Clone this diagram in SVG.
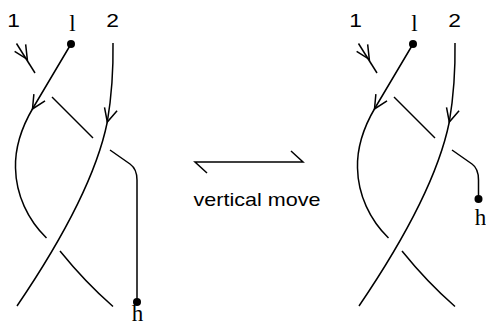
<svg xmlns="http://www.w3.org/2000/svg" xmlns:xlink="http://www.w3.org/1999/xlink" width="486" height="324" viewBox="0 0 486 324">
<style>
.s{fill:none;stroke:#000;stroke-width:1.5}
.lab{font-family:"Liberation Sans",Arial,sans-serif;font-size:19px;fill:#000;text-anchor:middle}
.ser{font-family:"Liberation Serif","Times New Roman",serif;font-size:23px;fill:#000;text-anchor:middle}
.cap{font-family:"Liberation Sans",Arial,sans-serif;font-size:18.5px;fill:#000}
</style>
<defs>
<path id="ah" d="M-13.5,-6.5 L0,0 L-13.5,6.5" fill="none" stroke="#000" stroke-width="1.5"/>
<g id="braid">
<path class="s" d="M16.5,43.5 L35,73"/>
<path class="s" d="M52,97 L93,138"/>
<path class="s" d="M71,44 L33,108 C20,130 15,150 15.5,168 C16,195 28,220 46.5,238"/>
<path class="s" d="M60,251 Q85,282 113,306.5"/>
<path class="s" d="M113,43 C113.5,75 111,100 107.3,122 C98,168 70,228 17,306"/>
<circle cx="71" cy="44" r="4"/>
<use xlink:href="#ah" transform="translate(27.3,59.3) rotate(58)"/>
<use xlink:href="#ah" transform="translate(32.5,109) rotate(121)"/>
<use xlink:href="#ah" transform="translate(107.3,122) rotate(105)"/>
<text class="lab" transform="translate(13.5,26.8) scale(1.2,1)">1</text>
<text class="ser" x="72.5" y="30.5">l</text>
<text class="lab" transform="translate(112.5,26.8) scale(1.2,1)">2</text>
</g>
</defs>
<g id="left">
<use xlink:href="#braid"/>
<path class="s" d="M110,150 L130,164 Q137,169 137,180 L137,302"/>
<circle cx="137" cy="302" r="4"/>
<text class="ser" x="137.5" y="321">h</text>
</g>
<g id="move">
<path class="s" d="M291,151 L303,162 L195,162 L207,173" stroke-width="1.3"/>
<text class="cap" x="193.5" y="205.5" textLength="127" lengthAdjust="spacingAndGlyphs">vertical move</text>
</g>
<g id="right">
<use xlink:href="#braid" transform="translate(342,0)"/>
<path class="s" d="M452,150 L472,164 Q478.5,168.5 478.5,180 L478.5,199"/>
<circle cx="478.5" cy="199" r="4"/>
<text class="ser" x="480.5" y="225">h</text>
</g>
</svg>
